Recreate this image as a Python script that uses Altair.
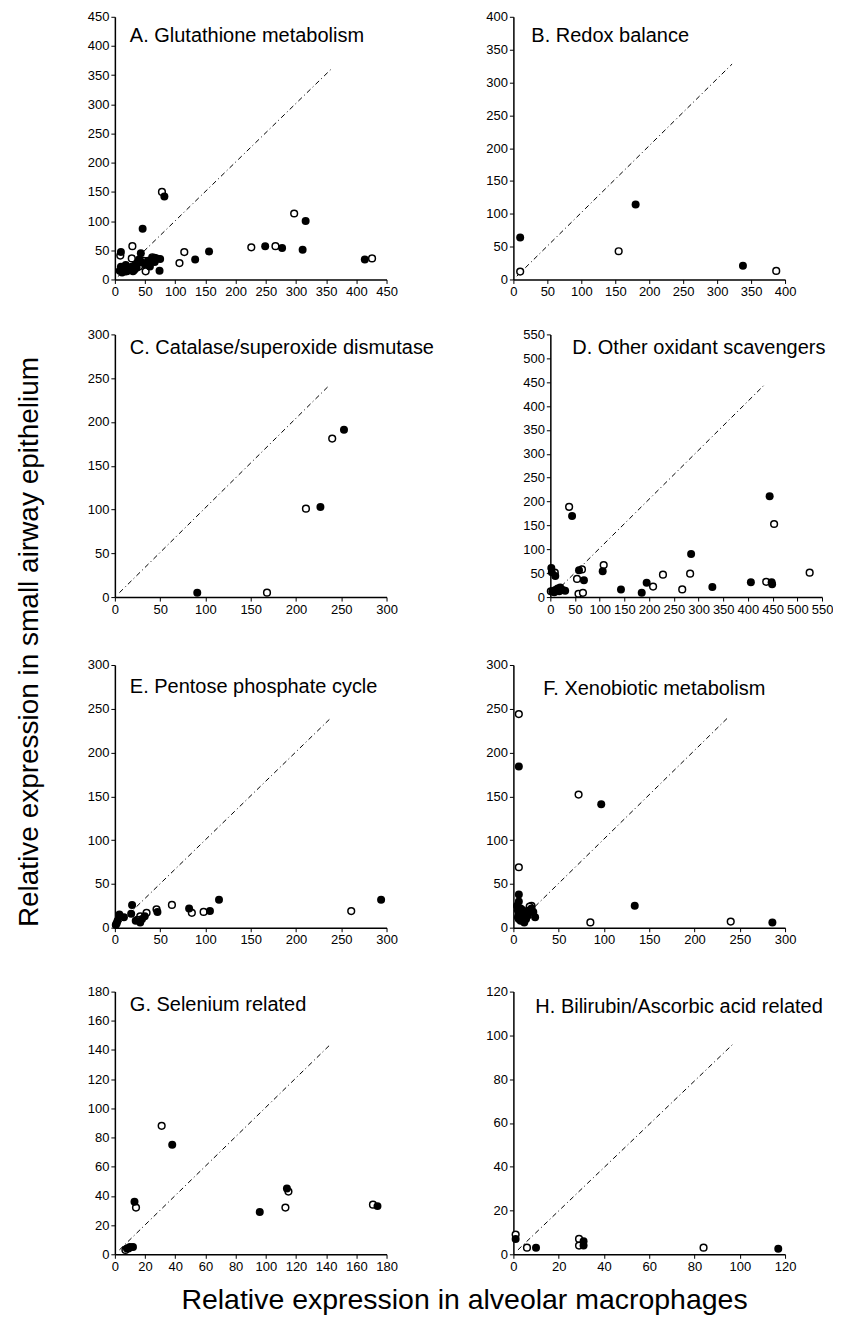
import altair as alt
import pandas as pd

FONT = "Liberation Sans"

# ---------------- data ----------------
A_title = "A. Glutathione metabolism"
A_fx = [10, 46, 82, 43, 75, 74, 133, 156, 249, 277, 311, 316, 414,
        8, 10, 12, 14, 16, 18, 20, 22, 25, 28, 30, 33, 36, 38, 40, 39, 44, 50, 55, 58, 62, 66, 70]
A_fy = [47, 87, 142, 45, 35, 15, 34, 48, 57, 54, 51, 100, 34,
        15, 22, 12, 20, 18, 25, 14, 20, 17, 22, 14, 24, 20, 28, 34, 30, 30, 26, 32, 22, 36, 30, 36]
A_ox = [78, 29, 9, 28, 51, 62, 107, 115, 226, 266, 297, 426, 12, 18, 25, 32, 40, 48, 58, 66]
A_oy = [150, 57, 41, 36, 14, 38, 28, 47, 55, 57, 113, 36, 18, 14, 20, 16, 22, 32, 28, 37]

B_title = "B. Redox balance"
B_fx = [10, 180, 338]
B_fy = [64, 114, 21]
B_ox = [10, 155, 387]
B_oy = [12, 43, 13]

C_title = "C. Catalase/superoxide dismutase"
C_fx = [91, 227, 253]
C_fy = [5, 103, 191]
C_ox = [168, 211, 240]
C_oy = [5, 101, 181]

D_title = "D. Other oxidant scavengers"
D_fx = [444, 44, 285, 58, 106, 2, 3, 10, 68, 143, 185, 195, 328, 406, 448, 449,
        4, 10, 15, 20, 25, 30, 8, 18]
D_fy = [211, 170, 90, 56, 54, 61, 52, 44, 35, 16, 9, 30, 21, 31, 31, 27,
        12, 15, 18, 20, 15, 13, 10, 12]
D_ox = [38, 453, 108, 64, 54, 9, 57, 66, 208, 228, 267, 283, 437, 525, 1]
D_oy = [189, 153, 67, 58, 38, 51, 7, 9, 22, 47, 16, 49, 32, 51, 12]

E_title = "E. Pentose phosphate cycle"
E_fx = [19, 5, 3, 1, 18, 23, 28, 33, 47, 82, 105, 115, 294, 10, 30]
E_fy = [26, 15, 8, 3, 16, 8, 6, 13, 18, 22, 19, 32, 32, 12, 10]
E_ox = [28, 35, 46, 63, 85, 98, 261, 2, 25]
E_oy = [13, 17, 21, 26, 17, 18, 19, 5, 9]

F_title = "F. Xenobiotic metabolism"
F_fx = [6, 97, 6, 6, 134, 286, 4, 5, 6, 7, 8, 10, 12, 14, 16, 18, 20, 22, 24, 8, 5, 12]
F_fy = [184, 141, 38, 30, 25, 6, 25, 20, 15, 10, 8, 12, 18, 10, 14, 20, 22, 18, 12, 22, 12, 6]
F_ox = [6, 72, 6, 20, 85, 240, 10, 14, 18, 6, 8]
F_oy = [244, 152, 69, 25, 6, 7, 20, 16, 24, 10, 16]

G_title = "G. Selenium related"
G_fx = [38, 13, 96, 114, 174, 8, 10, 12]
G_fy = [75, 36, 29, 45, 33, 4, 5, 5]
G_ox = [31, 14, 115, 113, 171, 9, 7]
G_oy = [88, 32, 43, 32, 34, 4, 3]

H_title = "H. Bilirubin/Ascorbic acid related"
H_fx = [1, 10, 31, 31, 117]
H_fy = [7, 3, 6, 4, 2.5]
H_ox = [1, 6, 29, 29, 84]
H_oy = [9, 3, 7, 4, 3]

# reference (dash-dot) lines: start and end points
A_line = ([5, 360], [5, 362])
B_line = ([5, 322], [5, 328])
C_line = ([5, 236], [5, 241])
D_line = ([5, 435], [5, 446])
E_line = ([5, 239], [5, 240])
F_line = ([5, 238], [5, 241])
G_line = ([3, 143], [3, 144])
H_line = ([2, 97], [2, 96])

# axis extents and steps
A_ax = (450, 50, 450, 50)
B_ax = (400, 50, 400, 50)
C_ax = (300, 50, 300, 50)
D_ax = (550, 50, 550, 50)
E_ax = (300, 50, 300, 50)
F_ax = (300, 50, 300, 50)
G_ax = (180, 20, 180, 20)
H_ax = (120, 20, 120, 20)

W, H = 272, 263


def panel(title, fx, fy, ox, oy, line, ax, tdx, tdy):
    xmax, xstep, ymax, ystep = ax
    xsc = alt.Scale(domain=[0, xmax], nice=False)
    ysc = alt.Scale(domain=[0, ymax], nice=False)
    xaxis = alt.Axis(values=list(range(0, xmax + 1, xstep)), title=None,
                     labelFlush=False, labelOverlap=False)
    yaxis = alt.Axis(values=list(range(0, ymax + 1, ystep)), title=None,
                     labelOverlap=False, labelFlush=False)

    def enc(ch):
        return ch.encode(x=alt.X("x:Q", scale=xsc, axis=xaxis),
                         y=alt.Y("y:Q", scale=ysc, axis=yaxis))

    ldf = pd.DataFrame({"x": line[0], "y": line[1]})
    lin = enc(alt.Chart(ldf).mark_line(color="black", strokeWidth=1,
                                       strokeDash=[5, 3, 1, 3]))
    fdf = pd.DataFrame({"x": fx, "y": fy})
    odf = pd.DataFrame({"x": ox, "y": oy})
    filled = enc(alt.Chart(fdf).mark_circle(size=64, color="black", opacity=1))
    opened = enc(alt.Chart(odf).mark_point(shape="circle", size=45, filled=True,
                                           fill="white", stroke="black",
                                           strokeWidth=1.5, opacity=1))
    txt = alt.Chart(pd.DataFrame({"t": [title]})).mark_text(
        align="left", baseline="alphabetic", fontSize=20, font=FONT,
        color="black").encode(text="t:N", x=alt.value(tdx), y=alt.value(tdy))
    return alt.layer(lin, opened, filled, txt).properties(width=W, height=H)


pA = panel(A_title, A_fx, A_fy, A_ox, A_oy, A_line, A_ax, 15, 25)
pB = panel(B_title, B_fx, B_fy, B_ox, B_oy, B_line, B_ax, 18, 25)
pC = panel(C_title, C_fx, C_fy, C_ox, C_oy, C_line, C_ax, 15, 20)
pD = panel(D_title, D_fx, D_fy, D_ox, D_oy, D_line, D_ax, 22, 20)
pE = panel(E_title, E_fx, E_fy, E_ox, E_oy, E_line, E_ax, 15, 28)
pF = panel(F_title, F_fx, F_fy, F_ox, F_oy, F_line, F_ax, 30, 30)
pG = panel(G_title, G_fx, G_fy, G_ox, G_oy, G_line, G_ax, 15, 19)
pH = panel(H_title, H_fx, H_fy, H_ox, H_oy, H_line, H_ax, 22, 21)

SP = 88
rowA = alt.hconcat(pA, pB, spacing=SP)
rowC = alt.hconcat(pC, pD, spacing=SP)
rowE = alt.hconcat(pE, pF, spacing=SP)
rowG = alt.hconcat(pG, pH, spacing=SP)

top = alt.vconcat(rowA, rowC, spacing=30)
bot = alt.vconcat(rowE, rowG, spacing=39)
inner = alt.vconcat(top, bot, spacing=43).properties(
    title=alt.TitleParams(text="Relative expression in small airway epithelium",
                          orient="left", anchor="middle", fontSize=28,
                          font=FONT, fontWeight="normal", color="black",
                          offset=43))

chart = alt.vconcat(inner).properties(
    title=alt.TitleParams(text="Relative expression in alveolar macrophages",
                          orient="bottom", anchor="middle", fontSize=28.5,
                          font=FONT, fontWeight="normal", color="black",
                          offset=13, dx=40),
    padding={"left": 8, "top": 2, "right": 0, "bottom": 0},
).configure_view(stroke=None).configure_axis(
    domainColor="black", domainWidth=1.5, tickColor="black", tickSize=4,
    tickWidth=1, labelColor="black", labelFontSize=13, labelFont=FONT,
    grid=False, labelPadding=2)

chart.save("out.html", embed_options={"renderer": "svg", "actions": False})
